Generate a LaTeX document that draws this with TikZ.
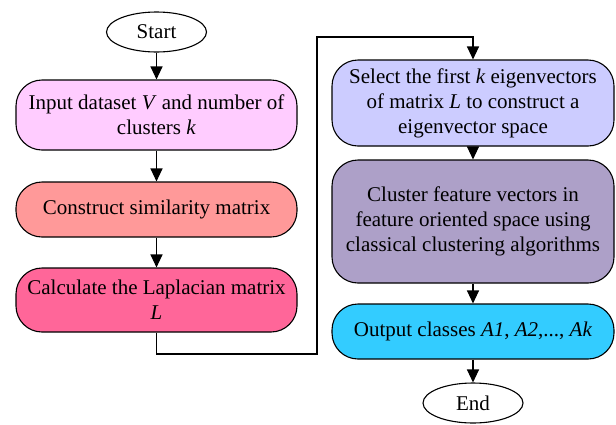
\documentclass[tikz,border=0pt]{standalone}
\usepackage{fontspec}
\setmainfont{Liberation Serif}
\usetikzlibrary{arrows.meta,shapes.geometric}
\definecolor{cinput}{HTML}{FFCCFF}
\definecolor{cconst}{HTML}{FF9999}
\definecolor{ccalc}{HTML}{FF6699}
\definecolor{csel}{HTML}{CCCCFF}
\definecolor{cclus}{HTML}{ADA0C8}
\definecolor{cout}{HTML}{33CCFF}
\tikzset{
  proc/.style={draw=black, line width=1.1pt, rounded corners=26pt, align=center,
    inner sep=0pt, font=\fontsize{21}{25}\selectfont},
  term/.style={draw=black, line width=1.1pt, ellipse, inner sep=0pt,
    minimum width=100pt, minimum height=40pt, fill=white, font=\fontsize{21}{25}\selectfont},
  conn/.style={line width=1.1pt, -{Triangle[length=13pt,width=12pt]}},
}
\begin{document}
\begin{tikzpicture}[x=1pt,y=-1pt]
\useasboundingbox (0,0) rectangle (616,424);
\node[term] (start) at (156.5,32) {Start};
\node[proc, fill=cinput, minimum width=281pt, minimum height=70pt] (input) at (156.5,115)
  {Input dataset \textit{V} and number of\\clusters \textit{k}};
\node[proc, fill=cconst, minimum width=281pt, minimum height=55pt] (const) at (156.5,209.5)
  {Construct similarity matrix};
\node[proc, fill=ccalc, minimum width=281pt, minimum height=64pt] (calc) at (156.5,300)
  {Calculate the Laplacian matrix\\\textit{L}};
\node[proc, fill=csel, minimum width=282pt, minimum height=86pt] (sel) at (473,103)
  {Select the first \textit{k} eigenvectors\\of matrix \textit{L} to construct a\\eigenvector space};
\node[proc, fill=cclus, minimum width=282pt, minimum height=123pt] (clus) at (473,221.5)
  {Cluster feature vectors in\\feature oriented space using\\classical clustering algorithms};
\node[proc, fill=cout, minimum width=282pt, minimum height=55pt] (out) at (473,331.5)
  {Output classes \textit{A1}, \textit{A2},..., \textit{Ak}};
\node[term] (end) at (473,403) {End};
\coordinate (c1) at (156.5,354);
\coordinate (c2) at (317,354);
\coordinate (c3) at (317,37);
\coordinate (c4) at (473,37);
\draw[conn] (start) -- (input);
\draw[conn] (input) -- (const);
\draw[conn] (const) -- (calc);
\draw[conn] (calc.south) -- (c1) -- (c2) -- (c3) -- (c4) -- (sel.north);
\draw[conn] (sel) -- (clus);
\draw[conn] (clus) -- (out);
\draw[conn] (out) -- (end);
\end{tikzpicture}
\end{document}
